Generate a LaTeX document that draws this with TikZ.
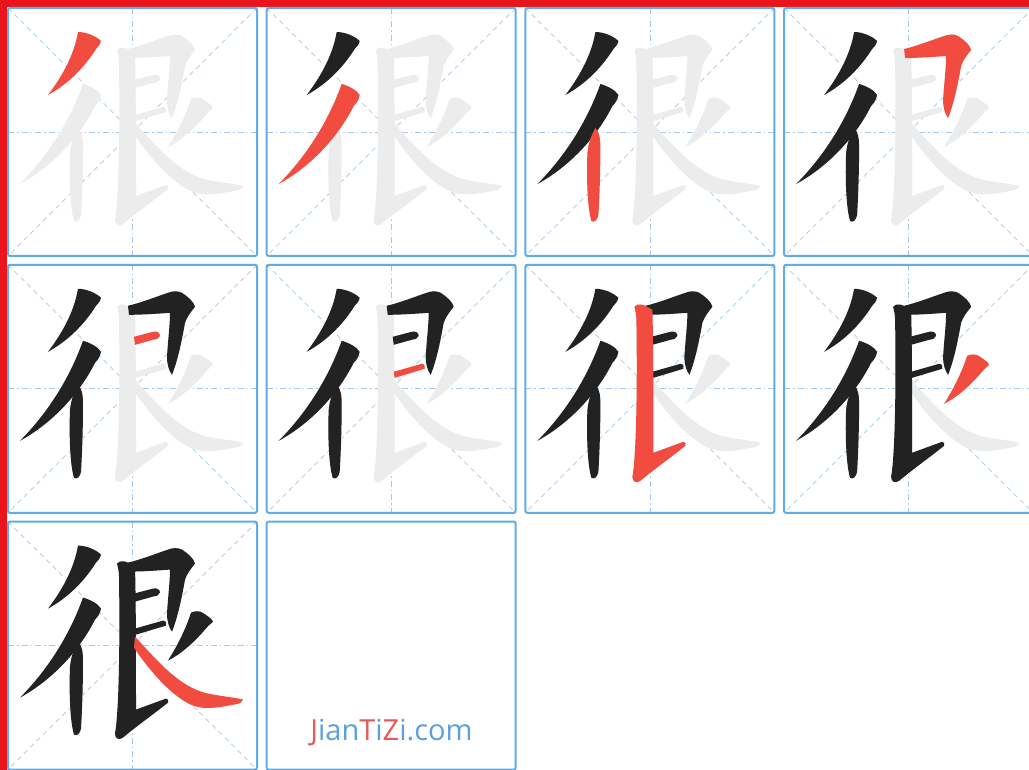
\documentclass[tikz,border=0pt]{standalone}
\usepackage{fontspec}
\newfontfamily\sitefont{Open Sans}
\definecolor{framered}{RGB}{232,22,28}
\definecolor{boxblue}{RGB}{95,172,232}
\definecolor{guideblue}{RGB}{165,200,232}
\definecolor{inkblack}{RGB}{34,34,34}
\definecolor{inkred}{RGB}{242,76,64}
\definecolor{inkgray}{RGB}{236,236,236}
\definecolor{sitered}{RGB}{232,88,88}
\definecolor{siteblue}{RGB}{92,160,222}
% strokes of the character, box coordinates (0..249, y down)
\newcommand{\hzpieA}{(70,24) .. controls (78,24) and (88,28) .. (93,33) .. controls (92,37) and (90,39) .. (88,41) .. controls (76,60) and (60,76) .. (40,87) .. controls (53,70) and (66,48) .. (70,24) -- cycle}
\newcommand{\hzpieB}{(75,76) .. controls (82,78) and (90,82) .. (93,87) .. controls (92,92) and (90,95) .. (87,98) .. controls (72,128) and (45,158) .. (12,176) .. controls (36,152) and (60,118) .. (75,76) -- cycle}
\newcommand{\hzshu}{(70,120) .. controls (74,124) and (75,130) .. (75,140) .. controls (75,165) and (74,190) .. (73,207) .. controls (72,212) and (69,215) .. (66,213) .. controls (62,200) and (61,170) .. (62,145) .. controls (63,135) and (66,127) .. (70,120) -- cycle}
\newcommand{\hzhengzhe}{(120,41) .. controls (133,38) and (148,32) .. (160,28) .. controls (165,26) and (170,26) .. (174,28) .. controls (180,32) and (186,37) .. (187,42) .. controls (183,47) and (179,52) .. (177,58) .. controls (174,75) and (170,95) .. (164,110) .. controls (161,106) and (159,100) .. (159,92) .. controls (160,75) and (162,60) .. (162,48) .. controls (148,49) and (134,50) .. (121,50) -- cycle}
\newcommand{\hzhengA}{(126,72) -- (145,67) .. controls (149,66) and (152,68) .. (152,71) .. controls (151,74) and (148,75) .. (145,75) -- (127,80) -- cycle}
\newcommand{\hzhengB}{(127,107) -- (155,99) .. controls (158,99) and (159,102) .. (158,104) -- (128,113) -- cycle}
\newcommand{\hzshuti}{(109,42) .. controls (112,38) and (118,39) .. (127,45) .. controls (128,80) and (128,140) .. (128,188) -- (158,177) .. controls (160,177) and (161,179) .. (160,181) .. controls (145,193) and (128,205) .. (115,216) .. controls (111,219) and (107,217) .. (107,212) .. controls (111,190) and (112,120) .. (111,55) .. controls (111,50) and (110,46) .. (109,42) -- cycle}
\newcommand{\hzpieC}{(183,91) .. controls (188,89) and (192,89) .. (196,92) .. controls (200,95) and (204,97) .. (205,100) .. controls (202,103) and (199,105) .. (197,108) .. controls (185,122) and (172,133) .. (160,139) .. controls (168,126) and (177,110) .. (183,91) -- cycle}
\newcommand{\hzna}{(127,115) .. controls (150,140) and (172,166) .. (200,172) .. controls (215,175) and (228,176) .. (235,178) .. controls (234,180) and (233,181) .. (231,182) .. controls (215,185) and (198,189) .. (185,184) .. controls (165,176) and (142,150) .. (126,126) -- cycle}
\begin{document}
\begin{tikzpicture}[x=1pt,y=-1pt,
    boxline/.style={draw=boxblue,line width=2pt,rounded corners=2pt},
    guide/.style={guideblue,line width=0.8pt,dash pattern=on 6pt off 3pt on 1.5pt off 3pt},
    diag/.style={guideblue,line width=0.7pt,dash pattern=on 5pt off 4pt}]
    \useasboundingbox (0,0) rectangle (1029,770);
    \fill[white] (0,0) rectangle (1029,770);
    \fill[framered] (0,0) rectangle (1029,7);
    \fill[framered] (0,0) rectangle (7,770);

    % one box per stroke
    \foreach \col/\row/\n in {0/0/1,1/0/2,2/0/3,3/0/4,0/1/5,1/1/6,2/1/7,3/1/8,0/2/9}{
        \begin{scope}[shift={(8+258.7*\col,8+256.8*\row)}]
            \draw[diag] (0,0) -- (249,248);
            \draw[diag] (249,0) -- (0,248);
            \draw[guide] (124.5,0) -- (124.5,248);
            \draw[guide] (0,124) -- (249,124);
            \foreach \s in {\hzpieA,\hzpieB,\hzshu,\hzhengzhe,\hzhengA,\hzhengB,\hzshuti,\hzpieC,\hzna}
                \fill[inkgray] \s;
            \foreach \s [count=\k] in {\hzpieA,\hzpieB,\hzshu,\hzhengzhe,\hzhengA,\hzhengB,\hzshuti,\hzpieC,\hzna}{
                \ifnum\k<\n \fill[inkblack] \s; \fi
                \ifnum\k=\n \fill[inkred] \s; \fi
            }
            \draw[boxline] (0,0) rectangle (249,248);
        \end{scope}
    }

    \draw[boxline] (266.7,521.6) rectangle (515.7,769.6);
    \node[anchor=base,inner sep=0pt,font=\sitefont\fontsize{29}{30}\selectfont] (site) at (391.5,740)
        {\textcolor{sitered}{J}\textcolor{siteblue}{ian}\textcolor{sitered}{T}\textcolor{siteblue}{i}\textcolor{sitered}{Z}\textcolor{siteblue}{i.com}};
\end{tikzpicture}
\end{document}
